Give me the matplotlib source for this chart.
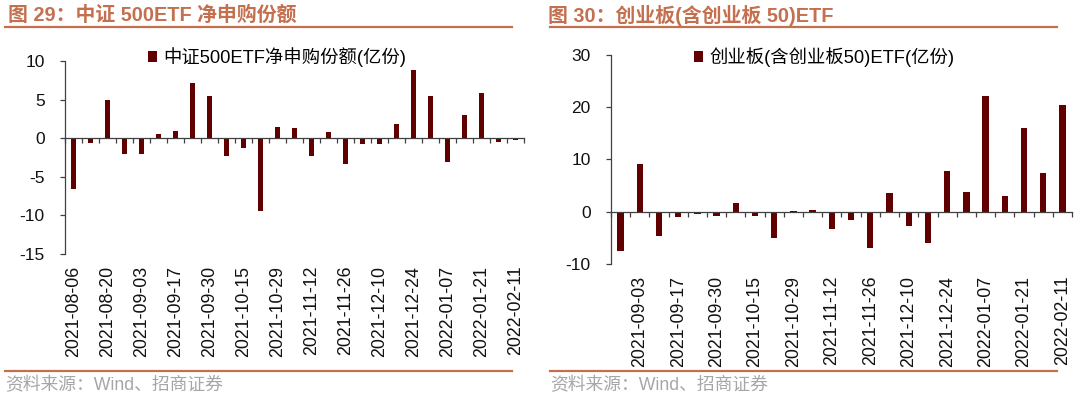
"""
ETF net subscription bar charts - two panels side by side
"""

import matplotlib
matplotlib.use("Agg")
import matplotlib.pyplot as plt
from matplotlib.lines import Line2D
import numpy as np

plt.rcParams['font.family'] = ['Liberation Sans', 'Noto Sans CJK SC']
plt.rcParams['axes.unicode_minus'] = False

# --- data ---
csi500_dates = ['2021-08-06', '2021-08-13', '2021-08-20', '2021-08-27', '2021-09-03',
                '2021-09-10', '2021-09-17', '2021-09-24', '2021-09-30', '2021-10-08',
                '2021-10-15', '2021-10-22', '2021-10-29', '2021-11-05', '2021-11-12',
                '2021-11-19', '2021-11-26', '2021-12-03', '2021-12-10', '2021-12-17',
                '2021-12-24', '2021-12-31', '2022-01-07', '2022-01-14', '2022-01-21',
                '2022-01-28', '2022-02-11']
csi500_values = [-6.6, -0.6, 4.9, -2.0, -2.1, 0.5, 0.9, 7.1, 5.5, -2.3,
                 -1.3, -9.4, 1.4, 1.3, -2.3, 0.8, -3.3, -0.7, -0.7, 1.8,
                 8.8, 5.5, -3.1, 3.0, 5.9, -0.5, -0.2]

gem_dates = ['2021-08-27', '2021-09-03', '2021-09-10', '2021-09-17', '2021-09-24',
             '2021-09-30', '2021-10-08', '2021-10-15', '2021-10-22', '2021-10-29',
             '2021-11-05', '2021-11-12', '2021-11-19', '2021-11-26', '2021-12-03',
             '2021-12-10', '2021-12-17', '2021-12-24', '2021-12-31', '2022-01-07',
             '2022-01-14', '2022-01-21', '2022-01-28', '2022-02-11']
gem_values = [-7.6, 9.2, -4.6, -1.1, -0.45, -0.75, 1.6, -0.75, -5.0, 0.08,
              0.3, -3.3, -1.6, -7.0, 3.6, -2.7, -6.0, 7.8, 3.75, 22.1,
              3.05, 16.1, 7.5, 20.4]

BAR_COLOR = '#600000'
TITLE_COLOR = '#C4704E'
AXIS_COLOR = '#404040'


def draw_panel(fig, rect, dates, values, ylim, yticks, label_start, legend_label, legend_x):
    ax = fig.add_axes(rect)
    x = np.arange(len(dates))
    ax.bar(x, values, width=0.33, color=BAR_COLOR, label=legend_label, zorder=2)

    ax.set_xlim(-0.5, len(dates) - 0.5)
    ax.set_ylim(*ylim)
    ax.set_yticks(yticks)
    ax.set_yticklabels([str(t) for t in yticks])

    # x axis crosses at zero, tick marks on category boundaries
    for side in ('top', 'right'):
        ax.spines[side].set_visible(False)
    ax.spines['bottom'].set_position(('data', 0))
    for side in ('left', 'bottom'):
        ax.spines[side].set_color(AXIS_COLOR)
        ax.spines[side].set_linewidth(0.9)
    ax.set_xticks([])
    ax.set_xticks(np.arange(len(dates) + 1) - 0.5, minor=True)
    ax.tick_params(axis='x', which='minor', direction='out', length=3.6,
                   width=0.9, color=AXIS_COLOR, labelbottom=False)
    ax.tick_params(axis='y', direction='out', length=3.6, width=0.9,
                   color=AXIS_COLOR, labelsize=12.5, pad=11, labelcolor='#111111')

    # date labels sit under the plot area, every second category
    sec = ax.secondary_xaxis(0)
    sec.set_xticks(x[label_start::2])
    sec.set_xticklabels(dates[label_start::2])
    sec.tick_params(length=0, pad=8.5, labelsize=12.8, labelrotation=90, labelcolor='#111111')
    for s in sec.spines.values():
        s.set_visible(False)

    ax.legend(loc='center left', bbox_to_anchor=(legend_x, 0.856),
              bbox_transform=fig.transFigure, frameon=False, borderpad=0,
              borderaxespad=0, handlelength=0.5, handleheight=0.5,
              handletextpad=0.35, fontsize=13.2)
    return ax


fig = plt.figure(figsize=(10.8, 3.97), dpi=100)

draw_panel(fig, [0.0602, 0.3602, 0.425, 0.4861], csi500_dates, csi500_values,
           (-15, 10), [-15, -10, -5, 0, 5, 10], 0,
           '中证500ETF净申购份额(亿份)', 0.137)
draw_panel(fig, [0.5657, 0.335, 0.4269, 0.5265], gem_dates, gem_values,
           (-10, 30), [-10, 0, 10, 20, 30], 1,
           '创业板(含创业板50)ETF(亿份)', 0.6426)

# headers, rules and source notes
fig.text(0.0075, 0.962, '图 29：中证 500ETF 净申购份额', fontsize=14.3, fontweight='bold',
         color=TITLE_COLOR, va='center', ha='left')
fig.text(0.507, 0.962, '图 30：创业板(含创业板 50)ETF', fontsize=14.3, fontweight='bold',
         color=TITLE_COLOR, va='center', ha='left')
for x0, x1 in [(0.0046, 0.474), (0.509, 0.979)]:
    fig.add_artist(Line2D([x0, x1], [0.932, 0.932], color=TITLE_COLOR, lw=1.6))
    fig.add_artist(Line2D([x0, x1], [0.066, 0.066], color=TITLE_COLOR, lw=1.6))
fig.text(0.0046, 0.03, '资料来源：Wind、招商证券', fontsize=12.8, color='#A6A6A6',
         va='center', ha='left')
fig.text(0.509, 0.03, '资料来源：Wind、招商证券', fontsize=12.8, color='#A6A6A6',
         va='center', ha='left')

fig.savefig('out.png', dpi=100)
